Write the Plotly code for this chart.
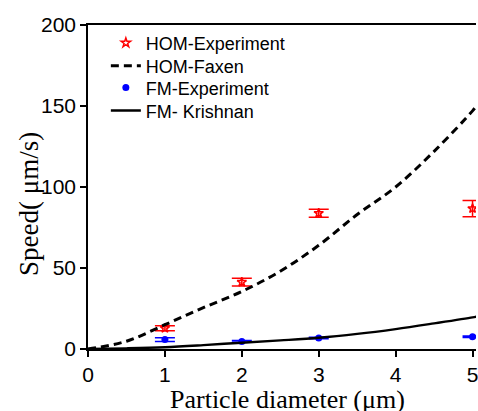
import plotly.graph_objects as go

# Experimental data
diam_exp = [1, 2, 3, 5]
hom_exp = [12.8, 41.3, 83.8, 86.7]
hom_err = [1.5, 2.4, 2.5, 5.0]
fm_exp = [5.8, 4.7, 6.8, 7.6]
fm_err = [1.2, 0.5, 0.5, 0.5]

# Model curves
diam_model = [0, 0.5, 1, 1.5, 2, 2.5, 3, 3.5, 4, 4.5, 5, 5.05]
hom_faxen = [0, 4.8, 15, 25.5, 35.5, 48, 64, 83, 100, 122, 147, 150]
fm_krishnan = [0, 0.4, 1.1, 2.4, 3.9, 5.3, 6.9, 9.3, 12.3, 15.8, 19.5, 20]

fig = go.Figure()
fig.add_trace(go.Scatter(
    x=diam_exp, y=hom_exp, mode="markers", name="HOM-Experiment", legend="legend",
    marker=dict(symbol="star-open", color="red", size=7, line=dict(width=1.5, color="red")),
    error_y=dict(type="data", array=hom_err, color="red", thickness=1.5, width=10),
))
fig.add_trace(go.Scatter(
    x=diam_model, y=hom_faxen, mode="lines", name="HOM-Faxen", legend="legend2",
    line=dict(color="black", width=3, dash="8px,5px", shape="spline"),
))
fig.add_trace(go.Scatter(
    x=diam_exp, y=fm_exp, mode="markers", name="FM-Experiment", legend="legend3",
    marker=dict(symbol="circle", color="blue", size=7),
    error_y=dict(type="data", array=fm_err, color="blue", thickness=1.5, width=10),
))
fig.add_trace(go.Scatter(
    x=diam_model, y=fm_krishnan, mode="lines", name="FM- Krishnan", legend="legend4",
    line=dict(color="black", width=2.4, shape="spline"),
))

legend_font = dict(family="Liberation Sans", size=18, color="black")
def leg(yc):
    return dict(x=0.046, y=yc, xanchor="left", yanchor="middle", font=legend_font,
                bgcolor="rgba(0,0,0,0)", borderwidth=0)

fig.update_layout(
    width=478, height=411,
    margin=dict(l=88, r=0, t=25, b=62),
    plot_bgcolor="white", paper_bgcolor="white",
    showlegend=True,
    legend=leg(0.944), legend2=leg(0.873), legend3=leg(0.806), legend4=leg(0.735),
    xaxis=dict(range=[0, 5.045], tickvals=[0, 1, 2, 3, 4, 5], ticks="outside", ticklen=6,
               tickwidth=1.5, tickcolor="black", showline=True, linecolor="black",
               linewidth=1.5, mirror=True, showgrid=False, zeroline=False,
               ticklabeloverflow="allow",
               tickfont=dict(family="Liberation Sans", size=21, color="black")),
    yaxis=dict(range=[0, 200], tickvals=[0, 50, 100, 150, 200], ticks="outside", ticklen=6,
               tickwidth=1.5, tickcolor="black", showline=True, linecolor="black",
               linewidth=1.5, showgrid=False, zeroline=False,
               tickfont=dict(family="Liberation Sans", size=21, color="black")),
    annotations=[
        dict(text="Particle diameter (\u03bcm)", xref="paper", yref="paper", x=0.515, y=0,
             xanchor="center", yanchor="top", yshift=-34, showarrow=False,
             font=dict(family="Liberation Serif", size=26, color="black")),
        dict(text="Speed( \u03bcm/s)", xref="paper", yref="paper", x=0, y=0.4475,
             xanchor="center", yanchor="middle", xshift=-59, textangle=-90, showarrow=False,
             font=dict(family="Liberation Serif", size=27, color="black")),
    ],
)

fig.write_html("out.html")
